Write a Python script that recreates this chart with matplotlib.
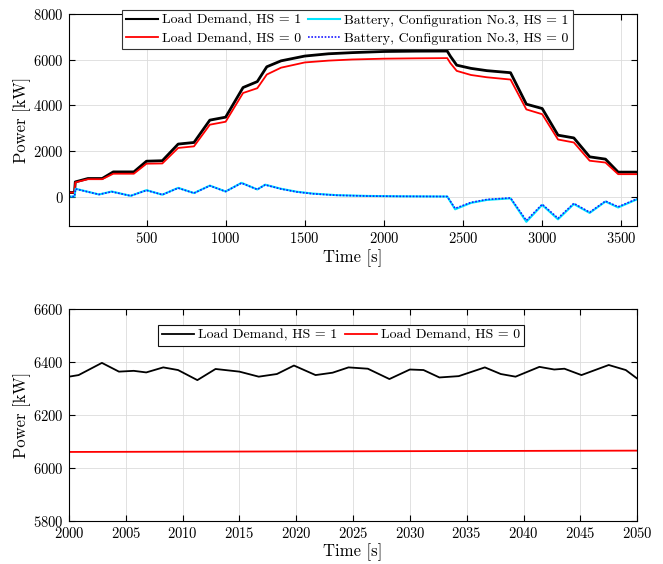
import matplotlib
matplotlib.use("Agg")
import matplotlib.pyplot as plt

plt.rcParams["font.family"] = "serif"
plt.rcParams["font.serif"] = ["cmr10", "DejaVu Serif"]
plt.rcParams["mathtext.fontset"] = "cm"
plt.rcParams["axes.formatter.use_mathtext"] = True

# ---- top panel: full mission profile ------------------------------------
t_load = [10, 45, 50, 130, 220, 290, 420, 500, 600, 700, 800, 900, 1000, 1110,
          1200, 1260, 1350, 1500, 1650, 1800, 2000, 2200, 2400, 2420, 2460,
          2550, 2650, 2800, 2900, 3000, 3100, 3200, 3300, 3400, 3480, 3600]
load_hs1 = [175, 175, 640, 790, 790, 1080, 1080, 1550, 1570, 2300, 2370, 3350,
            3480, 4780, 5040, 5690, 5950, 6160, 6260, 6310, 6360, 6375, 6380,
            6150, 5760, 5620, 5520, 5430, 4050, 3860, 2690, 2570, 1740, 1640,
            1070, 1070]
load_hs0 = [175, 175, 620, 760, 760, 1000, 1000, 1440, 1450, 2130, 2200, 3150,
            3280, 4540, 4750, 5350, 5650, 5880, 5960, 6010, 6045, 6060, 6070,
            5850, 5510, 5330, 5230, 5130, 3820, 3610, 2500, 2370, 1570, 1490,
            980, 980]

t_batt = [10, 45, 52, 200, 280, 400, 500, 600, 700, 800, 900, 1000, 1100, 1200,
          1250, 1350, 1450, 1550, 1700, 1900, 2100, 2400, 2450, 2550, 2650,
          2800, 2900, 3000, 3100, 3200, 3300, 3400, 3480, 3600]
batt_hs1 = [0, 0, 340, 90, 220, 30, 280, 80, 380, 150, 480, 220, 600, 310, 520,
            340, 210, 130, 60, 25, 10, 0, -560, -280, -150, -80, -1110, -370,
            -1000, -330, -720, -220, -480, -120]
batt_hs0 = [0, 0, 330, 90, 210, 30, 270, 80, 370, 150, 470, 220, 590, 310, 510,
            330, 200, 120, 55, 20, 8, 0, -520, -260, -130, -60, -1050, -340,
            -950, -300, -690, -200, -450, -100]

# ---- bottom panel: zoom on 2000-2050 s ----------------------------------
t_zoom = [2000, 2000.85, 2002.9, 2004.4, 2005.7, 2006.8, 2008.3, 2009.6, 2011.3,
          2012.9, 2015, 2016.7, 2018.3, 2019.8, 2021.7, 2023.2, 2024.6, 2026.3,
          2028.2, 2030, 2031.2, 2032.6, 2034.3, 2036.6, 2038.0, 2039.3, 2041.4,
          2042.7, 2043.6, 2045.1, 2047.5, 2049, 2050]
zoom_hs1 = [6345, 6351, 6397, 6364, 6367, 6361, 6380, 6370, 6332, 6374, 6364,
            6345, 6355, 6387, 6351, 6360, 6380, 6375, 6336, 6372, 6370, 6342,
            6347, 6380, 6355, 6345, 6382, 6372, 6375, 6351, 6389, 6370, 6338]
t_zoom_hs0 = [2000, 2050]
zoom_hs0 = [6061, 6066]

CYAN = "#00e5ff"
BLUE = "#1a1aff"
GRID = "#dcdcdc"


def style(ax):
    ax.grid(True, color=GRID, lw=0.6)
    ax.set_axisbelow(True)
    ax.tick_params(direction="in", top=True, right=True, labelsize=10.5,
                   length=4, width=0.8)
    for s in ax.spines.values():
        s.set_linewidth(0.8)


def legend(ax, anchor, edge, spacing):
    leg = ax.legend(ncol=2, loc="upper center", bbox_to_anchor=anchor,
                    fontsize=10, frameon=True, fancybox=False, framealpha=1,
                    edgecolor=edge, handlelength=2.3, columnspacing=0.5,
                    handletextpad=0.3, borderpad=0.3, labelspacing=spacing,
                    borderaxespad=0)
    leg.get_frame().set_linewidth(0.8)
    for ln in leg.get_lines():
        ln.set_linewidth(min(ln.get_linewidth(), 1.5))
    return leg


fig = plt.figure(figsize=(6.63, 5.64), dpi=100)
ax1 = fig.add_axes([0.104, 0.599, 0.857, 0.376])
ax2 = fig.add_axes([0.104, 0.076, 0.857, 0.376])

style(ax1)
ax1.plot(t_load, load_hs1, color="k", lw=2.0, label="Load Demand, HS = 1")
ax1.plot(t_load, load_hs0, color="#ff0000", lw=1.3, label="Load Demand, HS = 0")
ax1.plot(t_batt, batt_hs1, color=CYAN, lw=1.5,
         label="Battery, Configuration No.3, HS = 1")
ax1.plot(t_batt, batt_hs0, color=BLUE, lw=1.2, ls=(0, (1, 1)),
         label="Battery, Configuration No.3, HS = 0")
ax1.set_xlim(10, 3600)
ax1.set_ylim(-1300, 8000)
ax1.set_xticks([500, 1000, 1500, 2000, 2500, 3000, 3500])
ax1.set_yticks([0, 2000, 4000, 6000, 8000])
ax1.set_xlabel("Time [s]", fontsize=12, labelpad=2)
ax1.set_ylabel("Power [kW]", fontsize=12, labelpad=2)
legend(ax1, (0.49, 1.02), "#333333", 0.4)

style(ax2)
ax2.plot(t_zoom, zoom_hs1, color="k", lw=1.3, label="Load Demand, HS = 1")
ax2.plot(t_zoom_hs0, zoom_hs0, color="#ff0000", lw=1.3, label="Load Demand, HS = 0")
ax2.set_xlim(2000, 2050)
ax2.set_ylim(5800, 6600)
ax2.set_xticks(range(2000, 2051, 5))
ax2.set_yticks([5800, 6000, 6200, 6400, 6600])
ax2.set_xlabel("Time [s]", fontsize=12, labelpad=2)
ax2.set_ylabel("Power [kW]", fontsize=12, labelpad=2)
legend(ax2, (0.479, 0.925), "#111111", 0.2)

fig.savefig("out.png", dpi=100, facecolor="white")
